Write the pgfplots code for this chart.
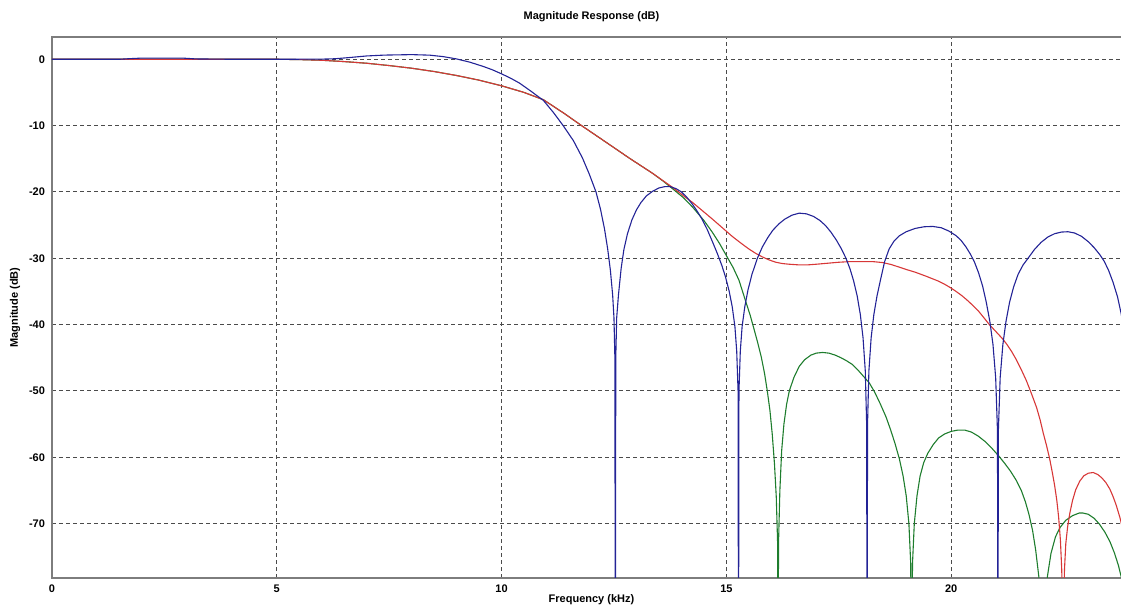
\documentclass[border=0pt]{standalone}
\usepackage{fontspec}
\setmainfont{Liberation Sans}
\usepackage{pgfplots}
\pgfplotsset{compat=1.18}

\definecolor{respblue}{RGB}{35,35,150}
\definecolor{respgreen}{RGB}{30,125,45}
\definecolor{respred}{RGB}{215,55,55}
\definecolor{gridgray}{RGB}{75,75,75}
\definecolor{framegray}{RGB}{125,125,125}

\newcommand{\lblfont}{\fontsize{5.5}{6.5}\selectfont\bfseries}

\begin{document}
\begin{tikzpicture}
\begin{axis}[
  scale only axis, width=539.5pt, height=270.5pt,
  xmin=0, xmax=24, ymin=-78.2, ymax=3.36,
  xtick={0,5,10,15,20}, ytick={-70,-60,-50,-40,-30,-20,-10,0},
  grid=major,
  major grid style={gridgray, line width=0.45pt, dash pattern=on 2pt off 1.5pt},
  axis line style={framegray, line width=0.8pt},
  major tick length=0pt,
  tick label style={font=\lblfont},
  /pgf/number format/assume math mode=true,
  title={Magnitude Response (dB)},
  every axis title shift=0pt,
  title style={font=\lblfont, at={(axis description cs:0.5,1.037)}, anchor=center},
  xlabel={Frequency (kHz)},
  xlabel style={font=\lblfont, at={(axis description cs:0.5,-0.0407)}, anchor=center},
  ylabel={Magnitude (dB)},
  ylabel style={font=\lblfont, at={(axis description cs:-0.0343,0.5)}, anchor=center},
  every axis plot/.append style={line width=0.55pt, line join=round},
]

% low-pass 3: steep roll-off with widening stopband lobes
\addplot[respgreen] coordinates {
(0,0) (5,0) (5.5,-0.05) (6,-0.15) (6.5,-0.35) (7,-0.6) (7.5,-0.95) (8,-1.35)
(8.5,-1.85) (9,-2.45) (9.5,-3.15) (10,-4) (10.5,-5) (10.93,-6.1) (11.4,-8.2)
(11.8,-10.1) (12.3,-12.4) (12.84,-14.9) (13.36,-17.2) (13.6,-18.4) (13.8,-19.5)
(14.05,-20.9) (14.25,-22.3) (14.5,-24.3) (14.69,-26.1) (14.85,-27.8) (15,-29.6)
(15.15,-31.4) (15.28,-33.3) (15.43,-36.5) (15.53,-38.6) (15.62,-40.8) (15.7,-42.8)
(15.78,-45) (15.85,-47.4) (15.91,-50) (15.97,-53) (16.02,-56.5) (16.07,-61)
(16.11,-66) (16.14,-73) (16.15,-95) (16.16,-73) (16.19,-65) (16.23,-59)
(16.28,-55) (16.34,-52) (16.4,-50) (16.5,-48) (16.62,-46.3) (16.74,-45.3)
(16.88,-44.6) (17.0,-44.3) (17.14,-44.2) (17.28,-44.3) (17.42,-44.6) (17.55,-45)
(17.66,-45.4) (17.8,-46) (17.92,-46.8) (18.05,-47.8) (18.18,-48.8) (18.3,-50.2)
(18.42,-51.9) (18.55,-53.9) (18.65,-55.8) (18.75,-57.9) (18.85,-60.3) (18.93,-62.8)
(19.0,-65.8) (19.06,-70) (19.1,-76) (19.12,-95) (19.14,-76) (19.18,-70)
(19.24,-65.8) (19.31,-62.8) (19.39,-60.8) (19.48,-59.4) (19.6,-58.1) (19.72,-57.1)
(19.85,-56.5) (20.0,-56.1) (20.15,-55.9) (20.3,-55.9) (20.45,-56.2) (20.6,-56.8)
(20.75,-57.6) (20.9,-58.6) (21.07,-59.9) (21.2,-61) (21.32,-62.1) (21.45,-63.5)
(21.56,-65) (21.65,-66.7) (21.73,-68.6) (21.81,-71) (21.88,-74) (21.95,-78)
(22.0,-83) (22.04,-95) (22.08,-83) (22.14,-78) (22.22,-74.5) (22.32,-72)
(22.42,-70.6) (22.55,-69.5) (22.7,-68.8) (22.85,-68.4) (22.93,-68.4) (23.05,-68.6)
(23.18,-69.2) (23.3,-70.1) (23.42,-71.3) (23.53,-72.7) (23.63,-74.4) (23.72,-76.3)
(23.8,-78.5) (23.9,-82)
};

% low-pass 2: shelf near -31 dB, then a single deep notch
\addplot[respred] coordinates {
(0,0) (5,0) (5.5,-0.05) (6,-0.15) (6.5,-0.35) (7,-0.6) (7.5,-0.95) (8,-1.35)
(8.5,-1.85) (9,-2.45) (9.5,-3.15) (10,-4) (10.5,-5) (10.93,-6.1) (11.4,-8.2)
(11.8,-10.1) (12.3,-12.4) (12.84,-14.9) (13.36,-17.2) (13.58,-18.25) (13.8,-19.3)
(14.02,-20.45) (14.25,-21.6) (14.47,-22.85) (14.69,-24.1) (14.91,-25.4) (15.13,-26.7)
(15.32,-27.7) (15.5,-28.6) (15.65,-29.25) (15.8,-29.8) (15.95,-30.25) (16.1,-30.6)
(16.25,-30.8) (16.4,-30.9) (16.62,-31.0) (16.8,-31.0) (17.0,-30.9) (17.25,-30.75)
(17.5,-30.6) (17.75,-30.5) (18.0,-30.5) (18.25,-30.5) (18.48,-30.65) (18.67,-30.95)
(18.85,-31.35) (19.03,-31.75) (19.2,-32.1) (19.44,-32.7) (19.7,-33.4) (19.85,-33.9)
(20,-34.5) (20.13,-35.1) (20.25,-35.7) (20.37,-36.4) (20.48,-37.1) (20.6,-37.9)
(20.72,-38.9) (20.85,-40) (20.96,-40.8) (21.07,-41.6) (21.15,-42.2) (21.23,-42.9)
(21.34,-44.0) (21.45,-45.3) (21.56,-46.8) (21.67,-48.4) (21.78,-50.3) (21.9,-52.5)
(21.98,-54.4) (22.05,-56.4) (22.12,-58.2) (22.19,-60.2) (22.25,-62.3) (22.3,-64.2)
(22.35,-66.5) (22.39,-69) (22.43,-72.5) (22.46,-77) (22.49,-95) (22.52,-77)
(22.55,-73) (22.59,-70.5) (22.64,-68.4) (22.7,-66.5) (22.77,-64.9) (22.86,-63.6)
(22.95,-62.8) (23.05,-62.4) (23.16,-62.3) (23.26,-62.6) (23.35,-63.1) (23.44,-63.8)
(23.53,-64.8) (23.6,-65.9) (23.67,-67.2) (23.75,-69) (23.83,-71.2) (23.92,-74)
(24,-77)
};

% low-pass 1: equiripple, narrowest transition band
\addplot[respblue] coordinates {
(0,0) (1.5,0) (1.7,0.08) (2.0,0.18) (2.9,0.18) (3.2,0.05) (4,0) (5,0) (6,0.02)
(6.3,0.08) (6.6,0.25) (7.0,0.5) (7.4,0.63) (8.0,0.7) (8.4,0.62) (8.7,0.4)
(9.0,0.05) (9.3,-0.45) (9.6,-1.1) (9.8,-1.6) (10.0,-2.2) (10.2,-2.85) (10.4,-3.6)
(10.65,-4.8) (10.93,-6.2) (11.15,-8) (11.37,-10) (11.6,-12.3) (11.8,-14.9)
(11.95,-17.3) (12.1,-20) (12.2,-22.6) (12.29,-25.6) (12.36,-28.6) (12.42,-31.8)
(12.47,-35.5) (12.5,-39) (12.52,-45) (12.53,-95) (12.54,-45) (12.56,-39)
(12.6,-35.5) (12.66,-31.5) (12.72,-28.7) (12.8,-26.3) (12.9,-24.2) (13.0,-22.7)
(13.1,-21.6) (13.22,-20.6) (13.36,-19.9) (13.5,-19.4) (13.63,-19.2) (13.75,-19.2)
(13.88,-19.5) (14.0,-20.0) (14.12,-20.8) (14.25,-21.9) (14.35,-22.9) (14.45,-24)
(14.57,-25.6) (14.69,-27.5) (14.8,-29.3) (14.9,-31.1) (14.98,-32.8) (15.06,-34.9)
(15.13,-37.3) (15.19,-40.3) (15.23,-44) (15.26,-50) (15.27,-95) (15.28,-50)
(15.31,-44) (15.35,-40.3) (15.41,-37.3) (15.48,-34.8) (15.57,-32.4) (15.69,-30)
(15.8,-28.3) (15.92,-26.9) (16.03,-25.8) (16.17,-24.8) (16.3,-24.1) (16.46,-23.5)
(16.62,-23.2) (16.78,-23.3) (16.94,-23.7) (17.08,-24.3) (17.21,-25.1) (17.33,-26.1)
(17.45,-27.3) (17.56,-28.6) (17.66,-30) (17.75,-31.6) (17.83,-33.4) (17.91,-35.7)
(17.98,-38.5) (18.04,-42) (18.09,-47) (18.12,-55) (18.13,-95) (18.14,-55)
(18.17,-47) (18.22,-42) (18.28,-38.5) (18.35,-35.7) (18.43,-33.2) (18.52,-30.5)
(18.62,-28.6) (18.73,-27.4) (18.85,-26.6) (19.0,-26) (19.2,-25.5) (19.4,-25.25)
(19.59,-25.2) (19.78,-25.4) (19.95,-25.9) (20.11,-26.6) (20.22,-27.3) (20.33,-28.3)
(20.43,-29.4) (20.52,-30.6) (20.61,-32.2) (20.7,-34.2) (20.78,-36.6) (20.86,-39.5)
(20.93,-43) (20.99,-48) (21.03,-56) (21.04,-95) (21.05,-56) (21.09,-48)
(21.15,-43) (21.22,-39.5) (21.3,-36.6) (21.39,-34.3) (21.49,-32.4) (21.6,-31)
(21.71,-30) (21.85,-28.7) (22.0,-27.6) (22.15,-26.8) (22.3,-26.3) (22.45,-26.05)
(22.6,-26) (22.75,-26.2) (22.9,-26.7) (23.05,-27.5) (23.18,-28.4) (23.3,-29.4)
(23.4,-30.4) (23.5,-31.8) (23.6,-33.6) (23.7,-35.8) (23.78,-38.3) (23.86,-41.5)
(23.93,-45.5) (24,-51)
};
\end{axis}
\pgfresetboundingbox
\useasboundingbox (-26pt,-16pt) rectangle (534.5pt,289pt);
\end{tikzpicture}
\end{document}
